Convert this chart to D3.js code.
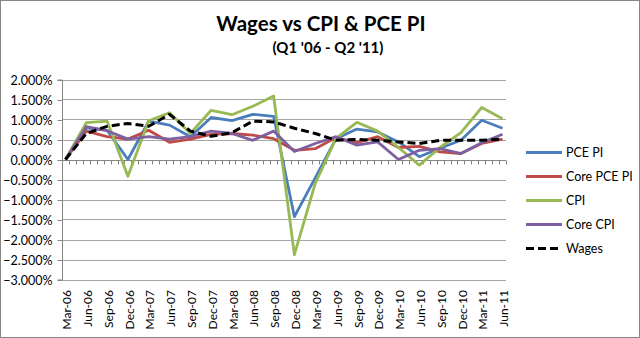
<!DOCTYPE html>
<html><head><meta charset="utf-8">
<script src="https://cdn.jsdelivr.net/npm/d3@7"></script>
<style>body{margin:0;background:#fff}svg{display:block;font-family:Lato,"Open Sans",sans-serif}</style>
</head><body><svg id="c" width="640" height="338"></svg>
<script>
const categories = ["Mar-06","Jun-06","Sep-06","Dec-06","Mar-07","Jun-07","Sep-07","Dec-07","Mar-08","Jun-08","Sep-08","Dec-08","Mar-09","Jun-09","Sep-09","Dec-09","Mar-10","Jun-10","Sep-10","Dec-10","Mar-11","Jun-11"];
const pcePI   = [0,0.79,0.73,0.00,0.96,0.86,0.57,1.05,0.97,1.13,1.08,-1.43,-0.46,0.52,0.76,0.69,0.44,0.07,0.28,0.48,0.98,0.78];
const corePCE = [0,0.71,0.57,0.51,0.73,0.43,0.51,0.63,0.65,0.61,0.52,0.23,0.27,0.55,0.42,0.57,0.30,0.33,0.19,0.15,0.40,0.51];
const cpi     = [0,0.92,0.96,-0.42,0.97,1.17,0.65,1.23,1.12,1.33,1.59,-2.38,-0.60,0.53,0.93,0.71,0.30,-0.14,0.30,0.67,1.30,1.02];
const coreCPI = [0,0.82,0.72,0.51,0.57,0.51,0.57,0.71,0.65,0.48,0.71,0.20,0.40,0.57,0.36,0.44,0.00,0.23,0.27,0.15,0.42,0.63];
const wages   = [0,0.65,0.83,0.90,0.83,1.13,0.71,0.58,0.67,0.96,0.94,0.78,0.65,0.48,0.50,0.48,0.44,0.40,0.48,0.48,0.48,0.51];
const yTicks  = [2,1.5,1,0.5,0,-0.5,-1,-1.5,-2,-2.5,-3];
const seriesNames = ["PCE PI","Core PCE PI","CPI","Core CPI","Wages"];
const seriesColors = ["#4A7EBB","#BE4B48","#98B954","#7D60A0","#000000"];
const seriesData = [pcePI, corePCE, cpi, coreCPI, wages];

const svg = d3.select("#c");
svg.append("rect").attr("x",0.5).attr("y",0.5).attr("width",639).attr("height",337)
  .attr("fill","#fff").attr("stroke","#868686");

const nMonths = (categories.length-1)*3 + 1;
const x = d3.scaleLinear().domain([-0.5, nMonths-0.5]).range([62, 506]);
const xq = i => x(i*3);
const y = d3.scaleLinear().domain([-3, 2]).range([279.5, 79.5]);

// gridlines
svg.append("g").selectAll("line").data(yTicks).join("line")
  .attr("x1",62).attr("x2",506).attr("y1",d=>Math.round(y(d))+0.5).attr("y2",d=>Math.round(y(d))+0.5)
  .attr("stroke","#a6a6a6").attr("stroke-width",1);

// y axis
const yAxis = d3.axisLeft(y).tickValues(yTicks).tickSize(5).tickFormat(d=>d3.format(".3f")(d)+"%");
const yg = svg.append("g").attr("transform","translate(62.5,0.5)").call(yAxis);
yg.select(".domain").attr("stroke","#868686").attr("d","M-5,"+y(2)+"H0V"+y(-3)+"H-5");
yg.selectAll(".tick line").attr("stroke","#868686");
yg.selectAll(".tick text").attr("font-size",12.5).attr("fill","#000").attr("x",-10).attr("font-family","Lato,sans-serif");

// x axis at zero
const zy = Math.round(y(0))+0.5;
const xg = svg.append("g");
xg.append("line").attr("x1",62).attr("x2",506).attr("y1",zy).attr("y2",zy).attr("stroke","#868686");
xg.selectAll("line.t").data(d3.range(nMonths+1)).join("line").attr("class","t")
  .attr("x1",d=>Math.round(x(d-0.5))+0.5).attr("x2",d=>Math.round(x(d-0.5))+0.5)
  .attr("y1",zy).attr("y2",zy+4).attr("stroke","#868686");
svg.append("g").selectAll("text").data(categories).join("text")
  .attr("transform",(d,i)=>`translate(${xq(i)+1.5},290) rotate(-90)`)
  .attr("text-anchor","end").attr("dy","0.35em").attr("font-size",12).attr("fill","#000").text(d=>d);

// lines
const line = d3.line().x((d,i)=>xq(i)).y(d=>y(d));
seriesData.forEach((s,k)=>{
  svg.append("path").datum(s).attr("d",line).attr("fill","none")
    .attr("stroke",seriesColors[k]).attr("stroke-width",k===4?3:2.8)
    .attr("stroke-linejoin","round")
    .attr("stroke-dasharray",k===4?"8,4":null);
});

// legend
const lg = svg.append("g");
seriesNames.forEach((n,k)=>{
  const ly = 152.5 + k*24;
  lg.append("line").attr("x1",526).attr("x2",562).attr("y1",ly).attr("y2",ly)
    .attr("stroke",seriesColors[k]).attr("stroke-width",3).attr("stroke-dasharray",k===4?"8,4":null);
  lg.append("text").attr("x",566).attr("y",ly).attr("dy","0.35em").attr("font-size",12.5).attr("fill","#000").text(n);
});

// titles
svg.append("text").attr("x",321).attr("y",31).attr("text-anchor","middle").attr("font-weight","bold")
  .attr("font-size",20.5).attr("fill","#000").text("Wages vs CPI & PCE PI");
svg.append("text").attr("x",328).attr("y",53).attr("text-anchor","middle").attr("font-weight","bold")
  .attr("font-size",15).attr("fill","#000").text("(Q1 '06 - Q2 '11)");
</script></body></html>
